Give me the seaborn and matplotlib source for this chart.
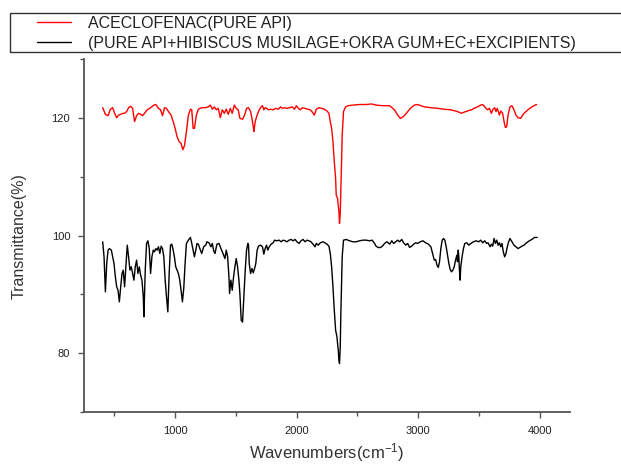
import numpy as np
import pandas as pd
import matplotlib
matplotlib.use("Agg")
import matplotlib.pyplot as plt
from matplotlib.ticker import MultipleLocator
from matplotlib.patches import Rectangle
import seaborn as sns

# ---------------- data ----------------
red_label = "ACECLOFENAC(PURE API)"
black_label = "(PURE API+HIBISCUS MUSILAGE+OKRA GUM+EC+EXCIPIENTS)"

red_wn = [404, 426, 448, 467, 486, 502, 519, 535, 552, 568, 584, 601, 617, 634, 650, 666, 683, 699,
          716, 732, 748, 770, 798, 825, 841, 863, 880, 896, 913, 929, 945, 967, 984, 1000, 1016, 1033,
          1049, 1063, 1077, 1093, 1109, 1126, 1137, 1148, 1159, 1175, 1191, 1219, 1246, 1273, 1290,
          1306, 1323, 1339, 1355, 1372, 1388, 1405, 1421, 1437, 1454, 1470, 1487, 1503, 1519,
          1533, 1555, 1572, 1588, 1604, 1621, 1632, 1643, 1648, 1659, 1675, 1692, 1708, 1719, 1730,
          1741, 1752, 1768, 1785, 1807, 1828, 1850, 1867, 1883, 1900, 1916, 1943, 1965, 1982, 1998,
          2014, 2031, 2047, 2069, 2091, 2113, 2129, 2146, 2162, 2184, 2206, 2228, 2250, 2266, 2277,
          2288, 2299, 2310, 2321, 2326, 2337, 2348, 2353, 2359, 2364, 2370, 2375, 2386, 2403, 2425,
          2463, 2518, 2572, 2616, 2654, 2709, 2764,
          2777, 2805, 2832, 2854, 2876, 2903, 2936, 2969, 2996, 3023, 3051, 3105, 3160, 3215, 3269,
          3324, 3357, 3379, 3406, 3439, 3461, 3488, 3515, 3532, 3548, 3570, 3587, 3603, 3614, 3630,
          3641, 3652, 3669, 3680, 3696, 3707, 3718, 3729, 3740, 3756, 3772, 3789, 3805, 3822, 3844,
          3860, 3882, 3904, 3926, 3953, 3975]
red_t = [121.76, 120.63, 120.4, 121.5, 121.76, 120.8, 120.06, 120.5, 120.63, 120.8, 120.8, 121.1,
         121.76, 122.0, 121.65, 119.4, 120.4, 120.8, 120.63, 120.4, 120.8, 121.4, 121.76, 122.2,
         122.3, 121.65, 121.4, 120.4, 121.76, 121.65, 121.1, 120.5, 119.4, 118.25, 116.83, 115.98,
         115.7, 114.6, 115.3, 117.7, 120.5, 121.5, 121.4, 118.25, 118.25, 120.5, 121.5, 121.76,
         121.76, 121.9, 122.2, 121.5, 121.9, 121.4, 121.65, 120.06, 121.4, 120.8, 121.5, 120.63,
         121.65, 120.8, 122.2, 121.65, 121.4,
         119.95, 119.8, 120.5, 121.65, 121.76, 121.1, 119.95, 118.5, 117.7, 119.4, 120.5, 121.4,
         121.9, 122.1, 121.4, 121.76, 121.65, 121.4, 121.5, 121.4, 121.65, 121.5, 121.9, 121.65,
         121.76, 121.65, 121.76, 121.9, 121.5, 122.1, 121.65, 121.4, 121.76, 121.65, 121.5, 121.4,
         121.0, 120.5, 121.5, 121.76, 121.65, 121.5, 121.2, 120.8, 119.4, 118.25, 115.98, 112.6,
         109.7, 106.9, 106.3, 104.1, 102.1, 103.8, 107.5, 112.6, 117.1, 121.1, 121.9, 122.1,
         122.2, 122.3, 122.3, 122.4, 122.2, 122.1, 122.1,
         121.9, 121.4, 120.5, 119.95, 120.2, 120.8, 121.65, 122.2, 122.3, 122.1, 121.9, 121.76,
         121.65, 121.5, 121.4, 121.1, 120.8, 121.0, 121.2, 121.4, 121.65, 121.9, 122.2, 122.3,
         121.9, 121.4, 121.65, 120.8, 121.4, 121.76, 121.1, 121.65, 120.5, 121.2, 120.8, 119.4,
         118.4, 118.5, 120.5, 121.9, 122.1, 121.4, 120.5, 120.06, 119.95, 120.5, 121.0, 121.4,
         121.76, 122.1, 122.3]

black_wn = [404, 415, 426, 437, 448, 459, 475, 486, 497, 508, 519, 530, 541, 552, 563, 573, 584, 595,
            606, 617, 628, 639, 650, 661, 672, 683, 694, 705, 716, 727, 738, 743, 754, 765, 776, 787,
            798, 809, 820, 830, 841, 852, 863, 874, 885, 896, 907, 918, 929, 940, 951, 962, 973, 984,
            994, 1005, 1016, 1027, 1038, 1049, 1060, 1071, 1082, 1093, 1109, 1126, 1137, 1148, 1159,
            1170, 1180, 1191, 1208, 1219, 1235, 1252, 1262, 1279, 1295, 1306, 1317, 1328, 1344, 1361,
            1377, 1394, 1410, 1421, 1432, 1443, 1448, 1459, 1470, 1481, 1492, 1503, 1514, 1525,
            1533, 1544, 1555, 1566, 1577, 1588, 1599, 1604, 1610, 1621, 1632, 1643, 1654, 1664, 1675,
            1686, 1703, 1719, 1730, 1741, 1752, 1763, 1774, 1790, 1807, 1818, 1834, 1856, 1872, 1889,
            1905, 1921, 1938, 1954, 1971, 1987, 2003, 2020, 2036, 2053, 2069, 2085, 2102, 2118, 2135,
            2151, 2162, 2178, 2195, 2217, 2233, 2250, 2266, 2277, 2288, 2299, 2310, 2321, 2332, 2337,
            2343, 2348, 2353, 2359, 2364, 2370, 2375, 2386, 2408, 2435, 2463, 2490, 2518, 2545, 2572,
            2600, 2621, 2638, 2654, 2671, 2692, 2714,
            2723, 2744, 2766, 2783, 2799, 2816, 2832, 2848, 2865, 2881, 2898, 2914, 2930, 2947, 2963,
            2980, 2996, 3018, 3040, 3062, 3084, 3105, 3122, 3133, 3144, 3155, 3166, 3176, 3187, 3198,
            3209, 3220, 3231, 3242, 3253, 3264, 3275, 3286, 3297, 3308, 3319, 3324, 3330, 3335, 3340,
            3346, 3351, 3362, 3373, 3384, 3401, 3417, 3433, 3455, 3477, 3499, 3515, 3532, 3548, 3565,
            3576, 3592, 3603, 3614, 3625, 3636, 3647, 3658, 3669, 3680, 3690, 3701, 3712, 3723, 3734,
            3745, 3756, 3772, 3789, 3805, 3822, 3838, 3854, 3871, 3893, 3915, 3936, 3958, 3980]
black_t = [98.95, 96.4, 90.44, 95.26, 97.53, 97.8, 97.53, 96.4, 95.26, 93.0, 91.3, 90.7, 88.74, 91.3,
           93.56, 94.13, 91.3, 94.7, 98.38, 96.4, 94.13, 94.7, 93.56, 92.43, 94.7, 95.83, 93.56,
           94.7, 93.28, 92.43, 89.6, 86.2, 94.13, 98.67, 99.12, 97.8, 93.56, 96.4, 97.53, 97.25,
           97.8, 97.53, 98.1, 96.96, 98.2, 97.8, 96.4, 92.43, 89.6, 87.03, 93.56, 98.38, 98.55,
           97.53, 96.4, 94.7, 94.13, 93.56, 92.43, 90.7, 88.74, 91.0, 95.26, 98.67, 99.23, 99.7,
           98.67, 97.53, 96.4, 97.53, 98.67, 98.55, 97.53, 96.96, 98.1, 98.38, 98.95, 98.78, 98.1,
           98.67, 97.42, 96.96, 98.55, 98.67, 97.8, 96.96, 96.1, 97.53, 96.4, 93.0, 90.16, 92.43,
           90.7, 93.0, 94.7, 96.1, 94.7, 92.43,
           90.16, 85.6, 85.3, 89.6, 94.13, 97.53, 98.67, 98.38, 95.26, 93.56, 94.41, 93.67, 94.41,
           95.26, 97.53, 98.21, 98.38, 98.1, 96.85, 97.8, 98.38, 97.53, 98.1, 98.55, 98.78, 99.23,
           99.12, 99.23, 98.95, 99.23, 99.12, 98.95, 99.23, 99.35, 99.12, 99.35, 98.95, 98.67,
           99.12, 99.35, 98.95, 99.23, 99.12, 98.95, 98.55, 98.1, 98.67, 98.38, 98.78, 98.95, 98.78,
           98.55, 98.21, 96.96, 94.7, 91.3, 87.32, 83.9, 82.78, 81.64, 80.5, 78.8, 78.24, 81.08,
           86.75, 92.43, 96.4, 99.23, 99.35, 99.12, 98.95, 98.95, 99.12, 99.23, 99.23, 99.12, 99.23,
           98.78, 98.21, 97.98, 97.98, 98.38,
           98.67, 98.95, 98.55, 99.12, 98.67, 98.95, 99.23, 98.95, 99.35, 98.78, 98.38, 98.67,
           97.99, 98.21, 98.55, 98.78, 98.67, 98.95, 99.12, 98.78, 98.55, 98.1, 96.68, 95.83, 95.94,
           94.98, 94.58, 95.55, 97.8, 99.23, 99.52, 99.23, 98.1, 96.68, 95.26, 94.24, 93.84, 94.13,
           94.7, 95.83, 96.68, 95.55, 97.53, 96.4, 94.13, 92.43, 94.7, 96.4, 97.8, 98.67, 98.78,
           98.38, 98.67, 98.95, 99.12, 98.95, 99.23, 98.78, 99.12, 98.67, 98.78, 98.1, 98.55, 98.21,
           99.52, 98.67, 99.23, 98.38, 98.78, 98.1, 98.67, 97.25, 96.4, 96.96, 98.1, 98.95, 99.52,
           98.95, 98.38, 98.1, 97.8, 97.99, 98.21, 98.38, 98.78, 99.12, 99.35, 99.69, 99.69]

x_ticks = [1000, 2000, 3000, 4000]
y_ticks = [80, 100, 120]

# ---------------- styling ----------------
sns.set_style("ticks")
plt.rcParams["font.family"] = ["Liberation Sans", "DejaVu Sans"]
plt.rcParams["mathtext.fontset"] = "custom"
plt.rcParams["mathtext.rm"] = "Liberation Sans"
plt.rcParams["mathtext.it"] = "Liberation Sans:italic"
plt.rcParams["mathtext.bf"] = "Liberation Sans:bold"

W, H = 621, 465
fig = plt.figure(figsize=(W / 100, H / 100), dpi=100)
ax = fig.add_axes([84 / W, 1 - 412 / H, (570 - 84) / W, (412 - 59.25) / H])

df_red = pd.DataFrame({"wn": red_wn, "t": red_t})
df_black = pd.DataFrame({"wn": black_wn, "t": black_t})

sns.lineplot(data=df_red, x="wn", y="t", ax=ax, color="#ff0000", lw=1.0,
             sort=False, estimator=None, label=red_label)
sns.lineplot(data=df_black, x="wn", y="t", ax=ax, color="#000000", lw=1.0,
             sort=False, estimator=None, label=black_label)

ax.set_xlim(250, 4250)
ax.set_ylim(70, 130)
ax.set_xticks(x_ticks)
ax.set_yticks(y_ticks)
ax.xaxis.set_minor_locator(MultipleLocator(500))
ax.yaxis.set_minor_locator(MultipleLocator(10))

spine_col = "#555555"
for s in ["top", "right"]:
    ax.spines[s].set_visible(False)
for s in ["left", "bottom"]:
    ax.spines[s].set_color(spine_col)
    ax.spines[s].set_linewidth(1.3)

ax.tick_params(axis="both", which="major", direction="out", length=4, width=1.0,
               color=spine_col, labelsize=8, labelcolor="#222222", pad=6)
ax.tick_params(axis="both", which="minor", direction="out", length=3, width=1.0,
               color=spine_col)

ax.set_xlabel("Wavenumbers(cm$^{-1}$)", fontsize=12, color="#333333", va="center")
ax.xaxis.set_label_coords(0.5, (412 - 453) / (412 - 59.25))
ax.set_ylabel("Transmittance(%)", fontsize=11.5, color="#333333", va="center")
ax.yaxis.set_label_coords((19 - 84) / (570 - 84), 0.5)

# legend (frameless) plus a separate box that runs off the right edge, as in the reference
leg = ax.legend(loc="upper left",
                bbox_to_anchor=(37 / W, 1 - 16 / H),
                bbox_transform=fig.transFigure, borderaxespad=0,
                frameon=False, fontsize=11.5,
                handlelength=2.1, handletextpad=1.1, borderpad=0.0,
                labelspacing=0.3)
for t in leg.get_texts():
    t.set_color("#222222")

box = Rectangle((10 / W, 1 - 52 / H), 1.2, 39 / H, transform=fig.transFigure,
                fill=False, edgecolor="#333333", lw=1.0, clip_on=False)
fig.add_artist(box)

fig.savefig("out.png", dpi=100)
